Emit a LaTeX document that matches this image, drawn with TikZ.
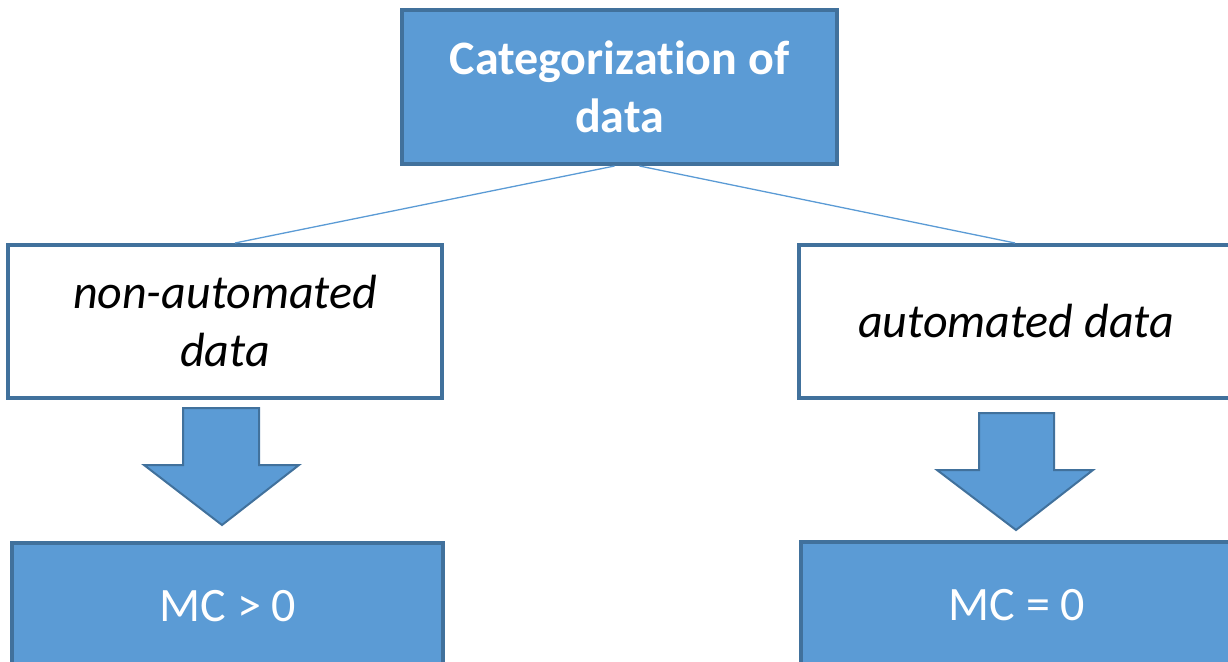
\documentclass[tikz,border=0pt]{standalone}
\usepackage{fontspec}
\setmainfont[Ligatures={NoCommon,NoContextual,NoRare}]{Carlito}
\usetikzlibrary{calc}
\definecolor{boxfill}{HTML}{5B9BD5}
\definecolor{boxline}{HTML}{41719C}
\tikzset{
  bluebox/.style={draw=boxline, line width=4pt, fill=boxfill, text=white, align=center,
    font=\fontsize{48}{58}\selectfont, inner sep=0pt},
  whitebox/.style={draw=boxline, line width=4pt, fill=white, text=black, align=center,
    font=\fontsize{48}{58}\selectfont\itshape, inner sep=0pt},
  blockarrow/.style={draw=boxline, line width=2pt, fill=boxfill, line join=miter},
  link/.style={draw=boxfill, line width=1.3pt}
}
\begin{document}
\begin{tikzpicture}[x=1pt,y=-1pt]
\useasboundingbox (0,0) rectangle (1228,661);
\clip (0,0) rectangle (1228,661);
\node[bluebox, minimum width=435pt, minimum height=154pt, font=\fontsize{48}{58}\selectfont\bfseries] (top) at (619.5,87) {Categoriza{}tion of\\data};
\node[whitebox, minimum width=434pt, minimum height=153pt] (nonauto) at (225,321.5) {non-automated\\data};
\node[whitebox, minimum width=434pt, minimum height=153pt] (auto) at (1016,321.5) {automated data};
\node[bluebox, minimum width=431pt, minimum height=154pt] (mcpos) at (227.5,620) {};
\node[bluebox, minimum width=433pt, minimum height=154pt] (mczero) at (1017.5,619) {};
\node[text=white, font=\fontsize{48}{58}\selectfont, inner sep=0pt] (mcposlabel) at (228,606) {MC > 0};
\node[text=white, font=\fontsize{48}{58}\selectfont, inner sep=0pt] (mczerolabel) at (1017,605) {MC = 0};
\draw[link] ($(top.south)+(-5,0)$) -- ($(nonauto.north)+(10,0)$);
\draw[link] ($(top.south)+(20,0)$) -- ($(auto.north)+(-1,0)$);
% block arrows
\draw[blockarrow] (183,408) -- (259,408) -- (259,465) -- (299,465) -- (222,525) -- (144,465) -- (183,465) -- cycle;
\draw[blockarrow] (979,413) -- (1054,413) -- (1054,470) -- (1093,470) -- (1016,530) -- (937,470) -- (979,470) -- cycle;
\end{tikzpicture}
\end{document}
